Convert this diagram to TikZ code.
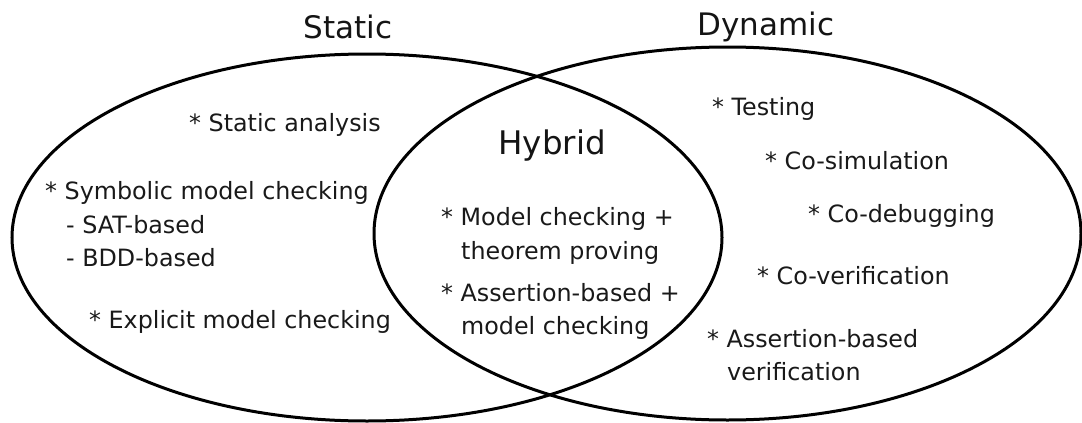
\documentclass[tikz,border=0pt]{standalone}
\usepackage{fontspec}
\setmainfont{DejaVu Sans}
\usetikzlibrary{shapes.geometric}
\begin{document}
\begin{tikzpicture}[x=1pt,y=-1pt,
  setring/.style={draw=black, line width=3pt, ellipse, inner sep=0pt, outer sep=0pt},
  settitle/.style={font=\fontsize{31}{36}\selectfont, anchor=base, inner sep=0pt, text=black!92},
  item/.style={font=\fontsize{23.8}{30}\selectfont, anchor=base west, inner sep=0pt, text=black!90}]
\useasboundingbox (0,0) rectangle (1082,423);

% the two sets
\node[setring, minimum width=710pt, minimum height=367pt] (static) at (367,237.5) {};
\node[setring, minimum width=707pt, minimum height=373pt] (dynamic) at (727.5,233.5) {};

% set titles
\node[settitle] (tstatic) at (348,38) {Static};
\node[settitle] (tdynamic) at (766,35) {Dynamic};
\node[settitle, font=\fontsize{32.5}{36}\selectfont] (thybrid) at (552,154) {Hybrid};

% static techniques
\node[item] (sa)  at (189,131) {* Static analysis};
\node[item] (smc) at (45,199)  {* Symbolic model checking};
\node[item] (sat) at (66,233)  {- SAT-based};
\node[item] (bdd) at (66,266)  {- BDD-based};
\node[item] (emc) at (89,328)  {* Explicit model checking};

% hybrid techniques
\node[item] (h1a) at (441,225) {* Model checking +};
\node[item] (h1b) at (461,259) {theorem proving};
\node[item] (h2a) at (441,301) {* Assertion-based +};
\node[item] (h2b) at (461,334) {model checking};

% dynamic techniques
\node[item] (tst) at (712,115) {* Testing};
\node[item] (csim) at (765,169) {* Co-simulation};
\node[item] (cdbg) at (808,222) {* Co-debugging};
\node[item] (cver) at (757,284) {* Co-verification};
\node[item] (abv1) at (707,347) {* Assertion-based};
\node[item] (abv2) at (727,380) {verification};
\end{tikzpicture}
\end{document}
